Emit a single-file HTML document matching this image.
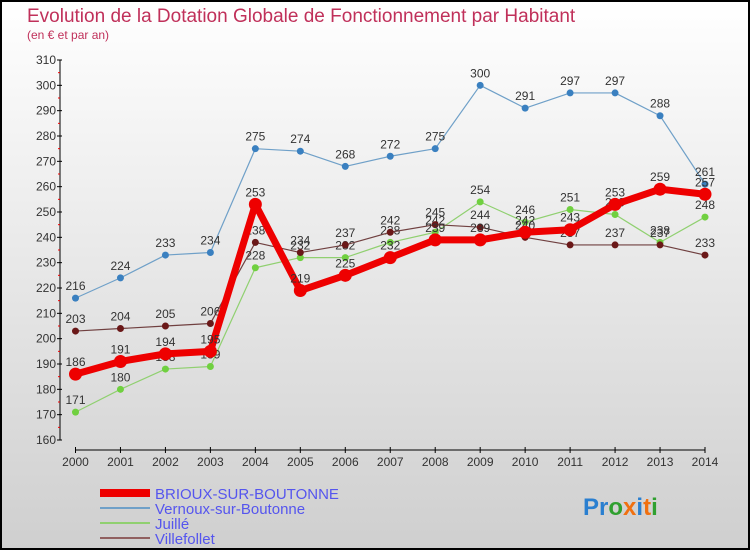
<!DOCTYPE html>
<html><head><meta charset="utf-8"><style>
body{margin:0;}
#c{width:750px;height:550px;position:relative;overflow:hidden;}
svg text{font-family:"Liberation Sans",sans-serif;}
</style></head><body>
<div id="c">
<svg id="s" width="750" height="550" xmlns="http://www.w3.org/2000/svg">
<defs><linearGradient id="bg" x1="0" y1="0" x2="0" y2="1"><stop offset="0" stop-color="#ffffff"/><stop offset="1" stop-color="#cfcfcf"/></linearGradient></defs>
<rect x="1" y="1" width="748" height="548" fill="url(#bg)" stroke="#000" stroke-width="2"/>
<text x="27" y="22" font-size="19" fill="#c0305a">Evolution de la Dotation Globale de Fonctionnement par Habitant</text>
<text x="27" y="39" font-size="12" fill="#c0305a">(en € et par an)</text>
<g id="axes"></g><g id="series"></g>
<g>
<rect x="100" y="489" width="50" height="8" fill="#e00"/>
<text x="155" y="499" font-size="15" fill="#5555ee">BRIOUX-SUR-BOUTONNE</text>
<line x1="100" x2="150" y1="508" y2="508" stroke="#6fa0c8" stroke-width="2"/>
<text x="155" y="514" font-size="15" fill="#5555ee">Vernoux-sur-Boutonne</text>
<line x1="100" x2="150" y1="523" y2="523" stroke="#90d070" stroke-width="2"/>
<text x="155" y="529" font-size="15" fill="#5555ee">Juillé</text>
<line x1="100" x2="150" y1="538" y2="538" stroke="#906060" stroke-width="2"/>
<text x="155" y="544" font-size="15" fill="#5555ee">Villefollet</text>
</g>
<text x="583" y="515" font-size="24" font-weight="bold"><tspan fill="#2a7fd0">Pr</tspan><tspan fill="#30a030">o</tspan><tspan fill="#f07010">x</tspan><tspan fill="#2a7fd0">i</tspan><tspan fill="#f07010">t</tspan><tspan fill="#30a030">i</tspan></text>
</svg></div>
<script>
const years=[2000,2001,2002,2003,2004,2005,2006,2007,2008,2009,2010,2011,2012,2013,2014];
const yTicks=[160,170,180,190,200,210,220,230,240,250,260,270,280,290,300,310];
const vernoux=[216,224,233,234,275,274,268,272,275,300,291,297,297,288,261];
const juille=[171,180,188,189,228,232,232,238,242,254,246,251,249,238,248];
const villefollet=[203,204,205,206,238,234,237,242,245,244,240,237,237,237,233];
const brioux=[186,191,194,195,253,219,225,232,239,239,242,243,253,259,257];
const NS="http://www.w3.org/2000/svg";
function X(i){return 75.5+i*(705-75.5)/(years.length-1);}
function Y(v){return 440-(v-160)*(380/150);}
function mk(t,a,p){const e=document.createElementNS(NS,t);for(const k in a)e.setAttribute(k,a[k]);p.appendChild(e);return e;}
const ax=document.getElementById('axes');
mk('line',{x1:60,x2:60,y1:Y(310),y2:Y(160),stroke:'#000','stroke-width':1},ax);
mk('line',{x1:75.5,x2:705,y1:450,y2:450,stroke:'#000','stroke-width':1},ax);
yTicks.forEach(v=>{
 mk('line',{x1:57,x2:62,y1:Y(v),y2:Y(v),stroke:'#000'},ax);
 if(v<310)mk('line',{x1:58,x2:60,y1:Y(v+5),y2:Y(v+5),stroke:'#e00'},ax);
 const t=mk('text',{x:56,y:Y(v)+4,'text-anchor':'end','font-size':12,fill:'#333'},ax);
 
 
 t.textContent=v;
});
years.forEach((y,i)=>{
 mk('line',{x1:X(i),x2:X(i),y1:447,y2:453,stroke:'#000'},ax);
 const t=mk('text',{x:X(i),y:466,'text-anchor':'middle','font-size':12,fill:'#333'},ax);
 
 
 t.textContent=y;
});
const sg=document.getElementById('series');
function draw(name,data,color,dot,w,r){
 const g=mk('g',{},sg);
 
 
 mk('polyline',{points:data.map((v,i)=>X(i)+','+Y(v)).join(' '),fill:'none',stroke:color,'stroke-width':w,'stroke-linejoin':'round'},g);
 data.forEach((v,i)=>{
  const c=mk('circle',{cx:X(i),cy:Y(v),r:r,fill:dot},g);
  
  
  const t=mk('text',{x:X(i),y:Y(v)-8,'text-anchor':'middle','font-size':12,fill:'#333'},g);
  
  
  t.textContent=v;
 });
}
draw('vernoux',vernoux,'#6fa0c8','#3a80c0',1.2,3.5);
draw('juille',juille,'#90d070','#70d040',1.2,3.5);
draw('villefollet',villefollet,'#704040','#6a1818',1.2,3.5);
draw('brioux',brioux,'#ee0000','#ee0000',7,6.5);
</script>
</body></html>
